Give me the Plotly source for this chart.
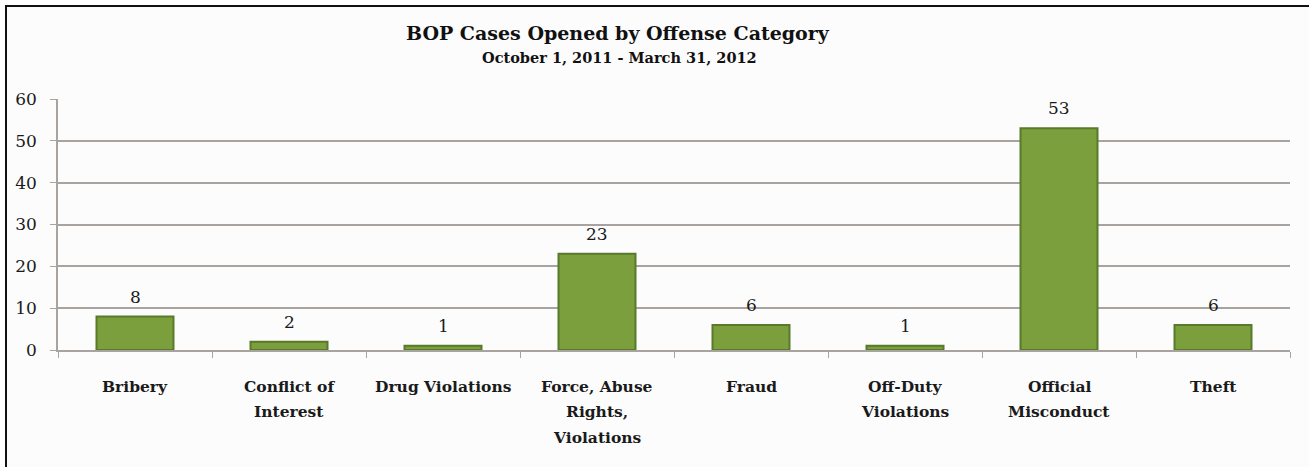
import plotly.graph_objects as go

categories = ["Bribery", "Conflict of<br>Interest", "Drug Violations", "Force, Abuse<br>Rights,<br>Violations",
              "Fraud", "Off-Duty<br>Violations", "Official<br>Misconduct", "Theft"]
cases = [8, 2, 1, 23, 6, 1, 53, 6]
y_ticks = [0, 10, 20, 30, 40, 50, 60]
title = "BOP Cases Opened by Offense Category"
subtitle = "October 1, 2011 - March 31, 2012"

W, H = 1309, 467
L, R, T, B = 58, 1290, 99, 350  # plot area in pixels
pw, ph = R - L, B - T

def px_x(x):
    return (x - L) / pw

def px_y(y):
    return (B - y) / ph

FONT = "DejaVu Serif, serif"
TXT = "#1a1a1a"
GRID = "#a9a39f"

fig = go.Figure()
fig.add_trace(go.Bar(
    x=categories, y=cases, width=0.5,
    marker=dict(color="#7b9f3c", line=dict(color="#587a2a", width=2)),
    cliponaxis=False, hoverinfo="x+y",
))

# value labels above bars
for c, v in zip(categories, cases):
    fig.add_annotation(x=c, y=v, xref="x", yref="y", text=str(v), showarrow=False,
                       yshift=20, yanchor="middle", xanchor="center",
                       font=dict(family=FONT, size=17, color=TXT))

# category labels, one annotation per line to control line spacing
for c in categories:
    for i, line in enumerate(c.split("<br>")):
        fig.add_annotation(x=c, xref="x", yref="paper", y=px_y(386 + 25.5 * i),
                           text="<b>" + line + "</b>", showarrow=False,
                           yanchor="middle", xanchor="center",
                           font=dict(family=FONT, size=15.5, color=TXT))

fig.add_shape(type="rect", xref="paper", yref="paper",
              x0=px_x(6), x1=px_x(W + 10), y0=px_y(H + 10), y1=px_y(6),
              line=dict(color="#111111", width=2), fillcolor="#fcfcfc", layer="below")

fig.add_annotation(text="<b>" + title + "</b>", xref="paper", yref="paper",
                   x=px_x(618), y=px_y(33), showarrow=False,
                   font=dict(family=FONT, size=19, color="#111111"), xanchor="center", yanchor="middle")
fig.add_annotation(text="<b>" + subtitle + "</b>", xref="paper", yref="paper",
                   x=px_x(619), y=px_y(58), showarrow=False,
                   font=dict(family=FONT, size=14.5, color="#111111"), xanchor="center", yanchor="middle")

fig.update_layout(
    width=W, height=H,
    margin=dict(l=L, r=W - R, t=T, b=H - B, pad=0),
    paper_bgcolor="white", plot_bgcolor="rgba(0,0,0,0)",
    showlegend=False,
    font=dict(family=FONT, color=TXT),
)
fig.update_xaxes(
    type="category", showgrid=False, showline=True, linecolor=GRID, linewidth=1.5,
    ticks="outside", tickson="boundaries", ticklen=6, tickcolor=GRID,
    showticklabels=False,
)
fig.update_yaxes(
    range=[0, 60], tickvals=y_ticks, showgrid=True, gridcolor=GRID, gridwidth=1.5,
    showline=True, linecolor=GRID, linewidth=1.5, zeroline=False,
    ticks="outside", ticklen=6, tickcolor=GRID,
    tickfont=dict(family=FONT, size=17, color=TXT), ticklabelstandoff=10,
)

fig.write_html("out.html", config={"displayModeBar": False},
               post_script="document.body.style.margin='0';document.body.style.overflow='hidden';")
